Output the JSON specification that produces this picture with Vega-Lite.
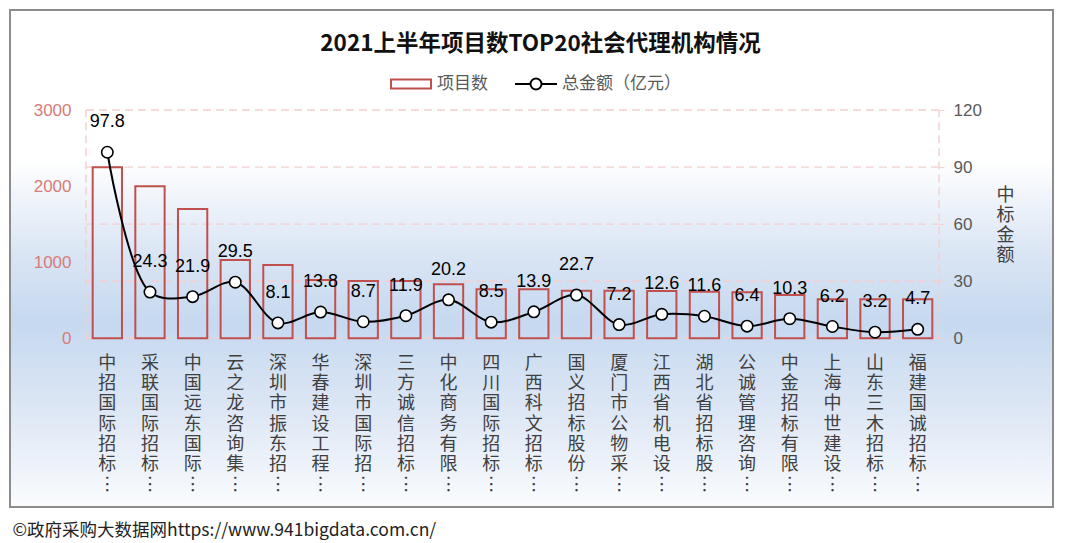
{
  "$schema": "https://vega.github.io/schema/vega-lite/v6.json",
  "width": 1043,
  "height": 497,
  "autosize": {"type": "none"},
  "padding": {"left": 10, "top": 10, "right": 27, "bottom": 36},
  "background": "#ffffff",
  "title": {
    "text": "2021上半年项目数TOP20社会代理机构情况",
    "orient": "top",
    "anchor": "middle",
    "frame": "group",
    "offset": 0,
    "baseline": "middle",
    "dy": 56,
    "dx": 9,
    "font": "Noto Sans CJK SC",
    "fontSize": 22.5,
    "fontWeight": "bold",
    "color": "#111111"
  },
  "data": {
    "values": [
      {"name": "中招国际招标…", "count": 2247, "amount": 97.8},
      {"name": "采联国际招标…", "count": 1997, "amount": 24.3},
      {"name": "中国远东国际…", "count": 1700, "amount": 21.9},
      {"name": "云之龙咨询集…", "count": 1030, "amount": 29.5},
      {"name": "深圳市振东招…", "count": 963, "amount": 8.1},
      {"name": "华春建设工程…", "count": 766, "amount": 13.8},
      {"name": "深圳市国际招…", "count": 753, "amount": 8.7},
      {"name": "三方诚信招标…", "count": 753, "amount": 11.9},
      {"name": "中化商务有限…", "count": 710, "amount": 20.2},
      {"name": "四川国际招标…", "count": 644, "amount": 8.5},
      {"name": "广西科文招标…", "count": 644, "amount": 13.9},
      {"name": "国义招标股份…", "count": 626, "amount": 22.7},
      {"name": "厦门市公物采…", "count": 626, "amount": 7.2},
      {"name": "江西省机电设…", "count": 622, "amount": 12.6},
      {"name": "湖北省招标股…", "count": 613, "amount": 11.6},
      {"name": "公诚管理咨询…", "count": 604, "amount": 6.4},
      {"name": "中金招标有限…", "count": 569, "amount": 10.3},
      {"name": "上海中世建设…", "count": 512, "amount": 6.2},
      {"name": "山东三木招标…", "count": 512, "amount": 3.2},
      {"name": "福建国诚招标…", "count": 512, "amount": 4.7}
    ]
  },
  "encoding": {
    "x": {
      "field": "name",
      "type": "nominal",
      "sort": null,
      "scale": {
        "domain": ["中招国际招标…", "采联国际招标…", "中国远东国际…", "云之龙咨询集…", "深圳市振东招…", "华春建设工程…", "深圳市国际招…", "三方诚信招标…", "中化商务有限…", "四川国际招标…", "广西科文招标…", "国义招标股份…", "厦门市公物采…", "江西省机电设…", "湖北省招标股…", "公诚管理咨询…", "中金招标有限…", "上海中世建设…", "山东三木招标…", "福建国诚招标…"],
        "range": [76, 929],
        "paddingInner": 0.313,
        "paddingOuter": 0.1565,
        "align": 0.5,
        "round": false
      },
      "axis": {
        "orient": "bottom",
        "offset": -168.7,
        "domain": false,
        "ticks": false,
        "grid": false,
        "labelAngle": 0,
        "labelPadding": 16,
        "labelFont": "Noto Sans CJK SC",
        "labelFontSize": 18,
        "labelLineHeight": 20.3,
        "labelColor": "#404040",
        "labelBaseline": "top",
        "labelOverlap": false,
        "labelExpr": "split(replace(datum.label, '…', '︙'), '')",
        "title": "©政府采购大数据网https://www.941bigdata.com.cn/",
        "titleX": 2,
        "titleY": 192,
        "titleAlign": "left",
        "titleAnchor": "start",
        "titleBaseline": "middle",
        "titleAngle": 0,
        "titleFont": "Noto Sans CJK SC",
        "titleFontSize": 17.5,
        "titleFontWeight": "normal",
        "titleColor": "#222222",
        "titleLimit": 0
      }
    }
  },
  "layer": [
    {
      "data": {"values": [{"g": 0}, {"g": 750}, {"g": 1500}, {"g": 2250}, {"g": 3000}]},
      "mark": {"type": "rule", "stroke": "#f3cfcf", "strokeWidth": 1.4, "strokeDash": [8, 5]},
      "encoding": {
        "x": {"datum": "中招国际招标…", "bandPosition": -0.229},
        "x2": {"datum": "福建国诚招标…", "bandPosition": 1.229},
        "y": {"field": "g", "type": "quantitative", "scale": {"domain": [-2216.8, 4314.1], "nice": false, "zero": false}, "axis": null}
      }
    },
    {
      "data": {"values": [{"side": "left"}]},
      "mark": {"type": "rule", "stroke": "#f3cfcf", "strokeWidth": 1.4, "strokeDash": [8, 5]},
      "encoding": {
        "x": {"datum": "中招国际招标…", "bandPosition": -0.229},
        "y": {"datum": 0, "type": "quantitative", "scale": {"domain": [-2216.8, 4314.1], "nice": false, "zero": false}, "axis": null},
        "y2": {"datum": 3000}
      }
    },
    {
      "data": {"values": [{"side": "right"}]},
      "mark": {"type": "rule", "stroke": "#f3cfcf", "strokeWidth": 1.4, "strokeDash": [8, 5]},
      "encoding": {
        "x": {"datum": "福建国诚招标…", "bandPosition": 1.229},
        "y": {"datum": 0, "type": "quantitative", "scale": {"domain": [-2216.8, 4314.1], "nice": false, "zero": false}, "axis": null},
        "y2": {"datum": 3000}
      }
    },
    {
      "mark": {"type": "bar", "fill": "transparent", "strokeWidth": 2},
      "encoding": {
        "y": {
          "field": "count",
          "type": "quantitative",
          "scale": {"domain": [-2216.8, 4314.1], "nice": false, "zero": false},
          "axis": {
            "orient": "left",
            "title": null,
            "values": [0, 1000, 2000, 3000],
            "format": "d",
            "offset": -76,
            "domain": false,
            "grid": false,
            "ticks": false,
            "labelPadding": 15,
            "labelFont": "Liberation Sans",
            "labelFontSize": 17,
            "labelColor": "#d97b78",
            "labelFlush": false
          }
        },
        "stroke": {
          "datum": "项目数",
          "type": "nominal",
          "scale": {"domain": ["项目数"], "range": ["#c0504d"]},
          "legend": {
            "orient": "none",
            "legendX": 380,
            "legendY": 53,
            "direction": "horizontal",
            "title": null,
            "padding": 0,
            "symbolType": "M-1,-0.225H1V0.225H-1Z",
            "symbolSize": 1600,
            "symbolStrokeWidth": 2,
            "symbolFillColor": "#ffffff",
            "symbolOpacity": 1,
            "labelFont": "Noto Sans CJK SC",
            "labelFontSize": 17,
            "labelColor": "#595959",
            "labelOffset": 5,
            "labelLimit": 0
          }
        }
      }
    },
    {
      "mark": {"type": "line", "interpolate": "catmull-rom", "strokeWidth": 2},
      "encoding": {
        "y": {
          "field": "amount",
          "type": "quantitative",
          "scale": {"domain": [-88.672, 172.564], "nice": false, "zero": false},
          "axis": {
            "orient": "right",
            "values": [0, 30, 60, 90, 120],
            "format": "d",
            "offset": -114,
            "domain": false,
            "grid": false,
            "ticks": true,
            "tickSize": 5,
            "tickColor": "#f3cfcf",
            "labelPadding": 9,
            "labelFont": "Liberation Sans",
            "labelFontSize": 17,
            "labelColor": "#595959",
            "labelFlush": false,
            "title": ["中", "标", "金", "额"],
            "titleAngle": 0,
            "titleX": 66,
            "titleY": 176,
            "titleAlign": "center",
            "titleBaseline": "top",
            "titleLineHeight": 20,
            "titleFont": "Noto Sans CJK SC",
            "titleFontSize": 18,
            "titleFontWeight": "normal",
            "titleColor": "#404040"
          }
        },
        "stroke": {
          "datum": "总金额（亿元）",
          "type": "nominal",
          "scale": {"domain": ["总金额（亿元）"], "range": ["#000000"]},
          "legend": {
            "orient": "none",
            "legendX": 505,
            "legendY": 53,
            "direction": "horizontal",
            "title": null,
            "padding": 0,
            "symbolType": "M-1.05,0H-0.275M0.275,0A0.275,0.275,0,1,1,-0.275,0A0.275,0.275,0,1,1,0.275,0M0.275,0H1.05",
            "symbolSize": 1600,
            "symbolStrokeWidth": 2,
            "symbolFillColor": "#ffffff",
            "symbolOpacity": 1,
            "labelFont": "Noto Sans CJK SC",
            "labelFontSize": 17,
            "labelColor": "#595959",
            "labelOffset": 5,
            "labelLimit": 0
          }
        }
      }
    },
    {
      "mark": {"type": "point", "shape": "circle", "filled": true, "fill": "#ffffff", "stroke": "#000000", "strokeWidth": 1.6, "size": 130, "opacity": 1},
      "encoding": {
        "y": {"field": "amount", "type": "quantitative", "scale": {"domain": [-88.672, 172.564], "nice": false, "zero": false}, "axis": null}
      }
    },
    {
      "mark": {"type": "text", "dy": -30, "font": "Liberation Sans", "fontSize": 18, "color": "#000000"},
      "encoding": {
        "y": {"field": "amount", "type": "quantitative", "scale": {"domain": [-88.672, 172.564], "nice": false, "zero": false}, "axis": null},
        "text": {"field": "amount", "type": "quantitative", "format": ".1f"}
      }
    }
  ],
  "resolve": {
    "scale": {"y": "independent", "stroke": "independent"},
    "axis": {"y": "independent"},
    "legend": {"stroke": "independent"}
  },
  "config": {
    "font": "Liberation Sans",
    "view": {
      "stroke": "#8c8c8c",
      "strokeWidth": 2,
      "fill": {
        "gradient": "linear",
        "x1": 0, "y1": 0, "x2": 0, "y2": 1,
        "stops": [
          {"offset": 0, "color": "#ffffff"},
          {"offset": 0.3, "color": "#ffffff"},
          {"offset": 0.49, "color": "#dae5f4"},
          {"offset": 0.63, "color": "#c6d9f0"},
          {"offset": 0.82, "color": "#dfe8f5"},
          {"offset": 1, "color": "#fafcfe"}
        ]
      }
    }
  }
}
